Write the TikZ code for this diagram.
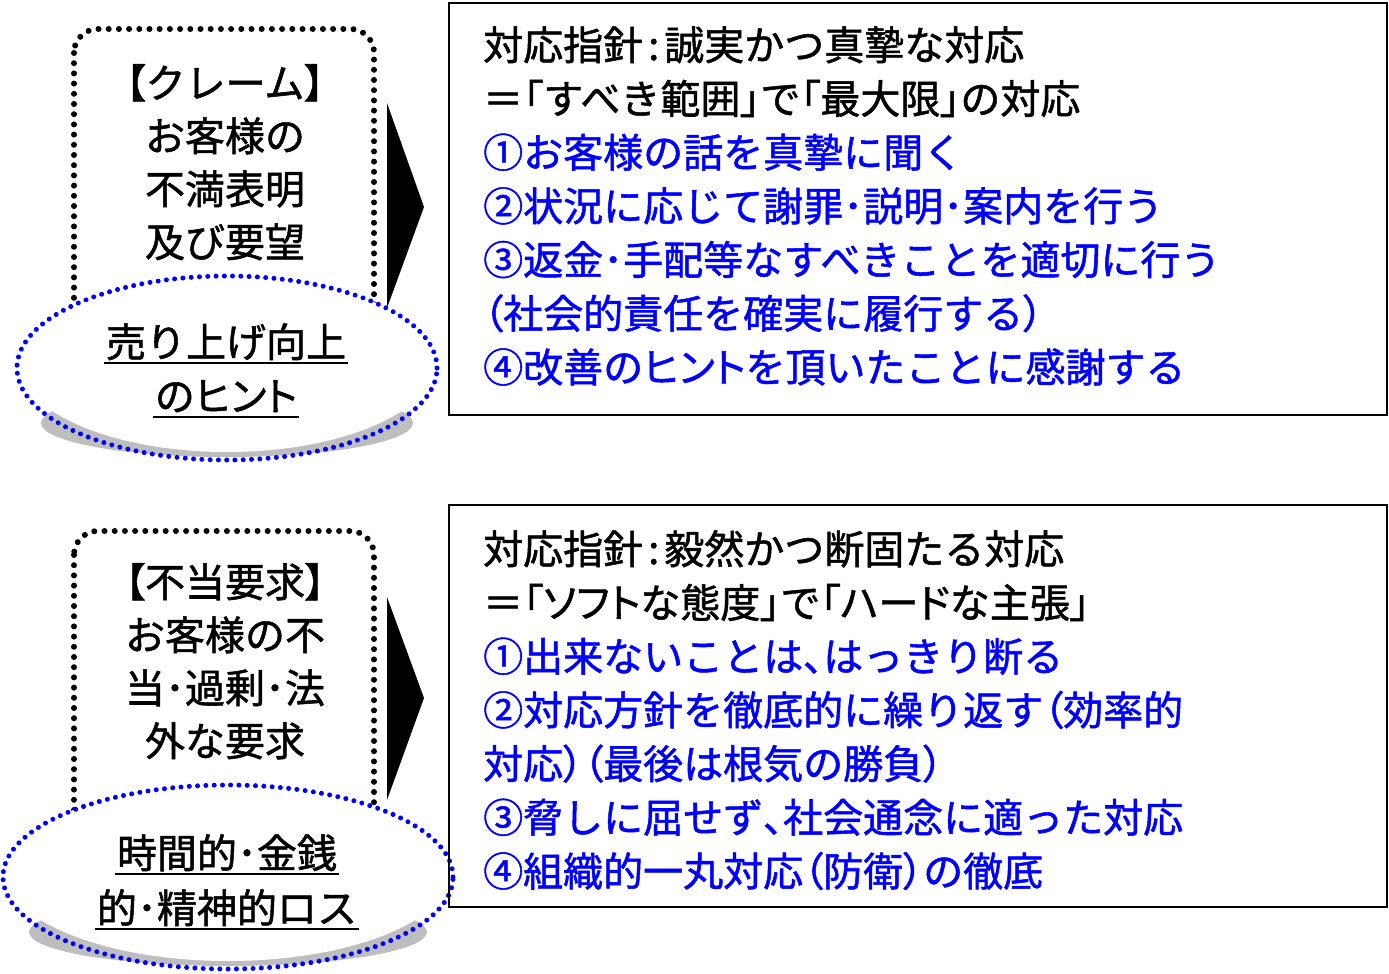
\documentclass[tikz,border=0pt]{standalone}
\usepackage{fontspec}
\usetikzlibrary{decorations.markings}
\setmainfont{Noto Sans CJK JP}[FakeBold=1.3]
\newfontfamily\jpp[RawFeature=+palt,FakeBold=1.3]{Noto Sans CJK JP}
\newcommand\myul[1]{\setbox0=\hbox{#1}\rlap{\kern-2pt\rule[-7pt]{\dimexpr\wd0+4pt\relax}{2pt}}\box0}
\newcommand\pp[1]{{\jpp #1}}
\definecolor{shadowgray}{RGB}{190,190,190}
\tikzset{
  dotbox/.style={rounded corners=24pt, postaction={decorate, decoration={markings,
     mark=between positions 0 and 1 step 10.2pt with {\fill[black] (0,0) circle (3pt);}}}},
  blueell/.style={postaction={decorate, decoration={markings,
     mark=between positions 0 and 1 step 8.3pt with {\fill[blue] (0,0) circle (2.5pt);}}}},
  mainbox/.style={draw=black, line width=2.5pt},
  ltxt/.style={anchor=base, inner sep=0pt, font=\fontsize{40pt}{48pt}\selectfont},
  rtxt/.style={anchor=base west, inner sep=0pt, font=\fontsize{40pt}{48pt}\selectfont},
  btxt/.style={rtxt, text=blue},
  arrowtri/.style={fill=black}
}
\begin{document}
\begin{tikzpicture}[x=1pt,y=-1pt]
\useasboundingbox (0,0) rectangle (1389,974);

% ===== top section =====
\path[dotbox] (74,29) rectangle (374,345);
\fill[arrowtri] (387,103) -- (424,207) -- (387,308) -- cycle;
\fill[white] (227,368) ellipse [x radius=210pt, y radius=92pt];
\fill[shadowgray] (227,423) ellipse [x radius=186pt, y radius=34pt];
\begin{scope}
  \clip (227,368) ellipse [x radius=210pt, y radius=92pt];
  \fill[white] (227,360) ellipse [x radius=210pt, y radius=92pt];
\end{scope}
\path[blueell] (227,368) ellipse [x radius=210pt, y radius=92pt];

\node[ltxt] (t1) at (225,98) {\pp{【}クレーム\pp{】}};
\node[ltxt] (t2) at (225,151) {お客様の};
\node[ltxt] (t3) at (225,204) {不満表明};
\node[ltxt] (t4) at (225,257) {及び要望};
\node[ltxt] (e1) at (226,357) {\myul{売り上げ向上}};
\node[ltxt] (e2) at (226,411) {\myul{の\pp{ヒント}}};

\draw[mainbox] (449,3) rectangle (1387,415);
\node[rtxt] (r1) at (483,60) {対応指針\kern5pt:\kern5pt 誠実かつ真摯な対応};
\node[rtxt] (r2) at (483,113.7) {＝\pp{「}すべき範囲\pp{」}で\pp{「}最大限\pp{」}の対応};
\node[btxt] (r3) at (483,167.4) {①お客様の話を真摯に聞く};
\node[btxt] (r4) at (483,221.1) {②状況に応じて謝罪･説明･案内を行う};
\node[btxt] (r5) at (483,274.8) {③返金･手配等なすべきことを適切に行う};
\node[btxt] (r6) at (483,328.5) {\pp{（}社会的責任を確実に履行する\pp{）}};
\node[btxt] (r7) at (483,382.2) {④改善の\pp{ヒント}を頂いたことに感謝する};

% ===== bottom section =====
\path[dotbox] (74,531) rectangle (374,850);
\fill[arrowtri] (387,597) -- (424,698) -- (387,800) -- cycle;
\fill[white] (228,877) ellipse [x radius=225pt, y radius=92pt];
\fill[shadowgray] (228,932) ellipse [x radius=199pt, y radius=34pt];
\begin{scope}
  \clip (228,877) ellipse [x radius=225pt, y radius=92pt];
  \fill[white] (228,869) ellipse [x radius=225pt, y radius=92pt];
\end{scope}
\path[blueell] (228,877) ellipse [x radius=225pt, y radius=92pt];

\node[ltxt] (b1) at (225,597) {\pp{【}不当要求\pp{】}};
\node[ltxt] (b2) at (225,650) {お客様の不};
\node[ltxt] (b3) at (225,703) {当･過剰･法};
\node[ltxt] (b4) at (225,756) {外な要求};
\node[ltxt] (f1) at (227,868) {\myul{時間的･金銭}};
\node[ltxt] (f2) at (227,923) {\myul{的･精神的ロス}};

\draw[mainbox] (449,505) rectangle (1387,907);
\node[rtxt] (s1) at (483,564) {対応指針\kern5pt:\kern5pt 毅然かつ断固たる対応};
\node[rtxt] (s2) at (483,617.7) {＝\pp{「ソフト}な態度\pp{」}で\pp{「ハード}な主張\pp{」}};
\node[btxt] (s3) at (483,671.4) {①出来ないことは\pp{、}はっきり断る};
\node[btxt] (s4) at (483,725.1) {②対応方針を徹底的に繰り返す\pp{（}効率的};
\node[btxt] (s5) at (483,778.8) {対応\pp{）（}最後は根気の勝負\pp{）}};
\node[btxt] (s6) at (483,832.5) {③脅しに屈せず\pp{、}社会通念に適った対応};
\node[btxt] (s7) at (483,886.2) {④組織的一丸対応\pp{（}防衛\pp{）}の徹底};
\end{tikzpicture}
\end{document}
